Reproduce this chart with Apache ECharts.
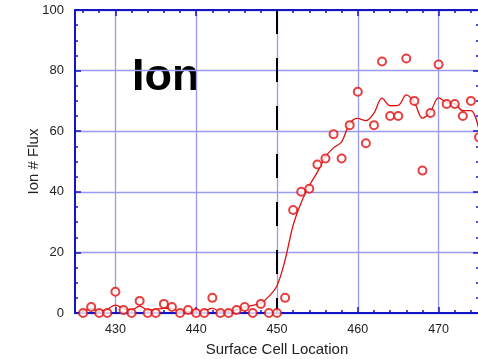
<!DOCTYPE html>
<html>
<head>
<meta charset="utf-8">
<script src="https://cdn.jsdelivr.net/npm/echarts@6/dist/echarts.min.js"></script>
<style>
  html, body { margin: 0; padding: 0; background: #fff; }
  #chart { width: 478px; height: 359px; }
</style>
</head>
<body>
<div id="chart"></div>
<script>
// cell positions along the surface
const cellLocations = [426, 427, 428, 429, 430, 431, 432, 433, 434, 435,
    436, 437, 438, 439, 440, 441, 442, 443, 444, 445,
    446, 447, 448, 449, 450, 451, 452, 453, 454, 455,
    456, 457, 458, 459, 460, 461, 462, 463, 464, 465,
    466, 467, 468, 469, 470, 471, 472, 473, 474, 475]
// measured ion flux per cell (circles)
const ionFlux = [0, 2, 0, 0, 7, 1, 0, 4, 0, 0,
    3, 2, 0, 1, 0, 0, 5, 0, 0, 1,
    2, 0, 3, 0, 0, 5, 34, 40, 41, 49,
    51, 59, 51, 62, 73, 56, 62, 83, 65, 65,
    84, 70, 47, 66, 82, 69, 69, 65, 70, 58]
// running average (red line)
const ionFluxAvg = [0.3, 1.5, 0.6, 1.2, 2.6, 1.5, 1.0, 2.3, 1.0, 1.2,
    1.5, 1.5, 0.5, 0.5, 0.5, 0.7, 1.5, 0.5, 0.6, 1.0,
    2.0, 2.5, 3.2, 5.5, 9, 17.5, 29, 36.5, 42, 46.5,
    51.6, 54.5, 56.5, 62.5, 64.2, 63.5, 66, 70.9, 68.4, 68.5,
    72, 69.5, 64.3, 66.5, 71, 69.4, 69, 66.8, 66.8, 60.4]

const xMajorTicks = [430, 440, 450, 460, 470]
const xMinorTicks = [426, 428, 432, 434, 436, 438, 442, 444, 446, 448,
    452, 454, 456, 458, 462, 464, 466, 468, 472, 474]
const interfaceX = 450

const axisBlue = '#1414c8'
const gridBlue = '#9a9af0'
const red = '#e01010'
const font = '"Liberation Sans", Arial, sans-serif'

const chart = echarts.init(document.getElementById('chart'), null, { renderer: 'canvas' })

const xBase = { type: 'value', min: 425, max: 475, gridIndex: 0 }
const noLabel = { show: false }

const option = {
    backgroundColor: '#fff',
    animation: false,
    grid: { left: 75, top: 10, right: -1, bottom: 46, outerBoundsMode: 'none', containLabel: false },
    xAxis: [
        {
            ...xBase,
            position: 'bottom',
            name: 'Surface Cell Location',
            nameLocation: 'middle',
            nameGap: 29,
            nameMoveOverlap: false,
            nameTextStyle: { fontFamily: font, fontSize: 15, color: '#222' },
            axisLine: { show: true, lineStyle: { color: axisBlue, width: 2 } },
            axisTick: { show: true, inside: true, length: 6, customValues: xMajorTicks, lineStyle: { color: axisBlue, width: 1.5 } },
            axisLabel: { customValues: xMajorTicks, margin: 10, fontFamily: font, fontSize: 12.5, color: '#222' },
            splitLine: { show: true, lineStyle: { color: gridBlue, width: 1.3 } }
        },
        {
            ...xBase,
            position: 'bottom',
            axisLine: { show: false },
            axisTick: { show: true, inside: true, length: 3, customValues: xMinorTicks, lineStyle: { color: axisBlue, width: 1.5 } },
            axisLabel: noLabel,
            splitLine: { show: false }
        },
        {
            ...xBase,
            position: 'top',
            axisLine: { show: true, lineStyle: { color: axisBlue, width: 2 } },
            axisTick: { show: true, inside: true, length: 6, customValues: xMajorTicks, lineStyle: { color: axisBlue, width: 1.5 } },
            axisLabel: noLabel,
            splitLine: { show: false }
        },
        {
            ...xBase,
            position: 'top',
            axisLine: { show: false },
            axisTick: { show: true, inside: true, length: 3, customValues: xMinorTicks, lineStyle: { color: axisBlue, width: 1.5 } },
            axisLabel: noLabel,
            splitLine: { show: false }
        }
    ],
    yAxis: [
        {
            type: 'value', min: 0, max: 100, interval: 20, position: 'left',
            name: 'Ion # Flux',
            nameLocation: 'middle',
            nameGap: 34,
            nameMoveOverlap: false,
            nameTextStyle: { fontFamily: font, fontSize: 15, color: '#222' },
            axisLine: { show: true, lineStyle: { color: axisBlue, width: 2 } },
            axisTick: { show: true, inside: true, length: 6, lineStyle: { color: axisBlue, width: 1.5 } },
            minorTick: { show: true, splitNumber: 4, length: 3, lineStyle: { color: axisBlue, width: 1.5 } },
            axisLabel: { margin: 11, fontFamily: font, fontSize: 13, color: '#222' },
            splitLine: { show: true, lineStyle: { color: gridBlue, width: 1.3 } }
        },
        {
            type: 'value', min: 0, max: 100, interval: 20, position: 'right',
            axisLine: { show: true, lineStyle: { color: axisBlue, width: 2 } },
            axisTick: { show: true, inside: true, length: 6, lineStyle: { color: axisBlue, width: 1.5 } },
            minorTick: { show: true, splitNumber: 4, length: 3, lineStyle: { color: axisBlue, width: 1.5 } },
            axisLabel: noLabel,
            splitLine: { show: false }
        }
    ],
    graphic: [
        {
            type: 'text',
            left: 132,
            top: 55,
            style: { text: 'Ion', fontFamily: font, fontWeight: 'bold', fontSize: 45, fill: '#000' }
        }
    ],
    series: [
        {
            name: 'interface',
            type: 'line',
            xAxisIndex: 0,
            yAxisIndex: 0,
            data: [[interfaceX, 100], [interfaceX, 0]],
            symbol: 'none',
            lineStyle: { color: '#000', width: 2, type: [24, 24] },
            z: 3
        },
        {
            name: 'average',
            type: 'line',
            xAxisIndex: 0,
            yAxisIndex: 0,
            data: cellLocations.map((x, i) => [x, ionFluxAvg[i]]),
            symbol: 'none',
            smooth: 0.35,
            lineStyle: { color: red, width: 1.3 },
            z: 4
        },
        {
            name: 'flux',
            type: 'scatter',
            xAxisIndex: 0,
            yAxisIndex: 0,
            data: cellLocations.map((x, i) => [x, ionFlux[i]]),
            symbol: 'emptyCircle',
            symbolSize: 8,
            itemStyle: { color: red, borderColor: red, borderWidth: 1.2 },
            z: 5
        }
    ]
}

chart.setOption(option)
</script>
</body>
</html>
